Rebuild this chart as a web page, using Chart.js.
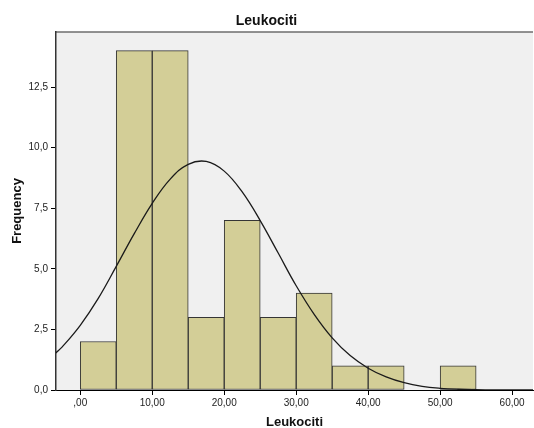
<!DOCTYPE html>
<html>
<head>
<meta charset="utf-8">
<script src="https://cdn.jsdelivr.net/npm/chart.js@4"></script>
<style>
  html, body { margin: 0; padding: 0; background: #fff; }
  #wrap { width: 534px; height: 428px; }
</style>
</head>
<body>
<div id="wrap"><canvas id="MyChart" width="534" height="428"></canvas></div>
<script>
// histogram bins (start of each 5-wide bin) and counts
let binStarts = [0, 5, 10, 15, 20, 25, 30, 35, 40, 45, 50];
let counts = [2, 14, 14, 3, 7, 3, 4, 1, 1, 0, 1];
let binWidth = 5;

// normal curve
let curveX = [-3.4, -2.5, 0, 2.5, 5, 7.5, 10, 12.5, 15, 17.5, 20, 22.5, 25, 27.5, 30, 32.5, 35, 37.5, 40, 42.5, 45, 47.5, 50, 52.5, 55, 57.5, 60, 62.5, 65];
let curveY = [1.53, 1.78, 2.67, 3.78, 5.1, 6.45, 7.7, 8.70, 9.31, 9.43, 9.03, 8.17, 6.99, 5.65, 4.3, 3.12, 2.15, 1.42, 0.9, 0.54, 0.3, 0.15, 0.07, 0.03, 0.013, 0.005, 0.002, 0.001, 0];

let xTicks = [0, 10, 20, 30, 40, 50, 60];
let yTicks = [0, 2.5, 5, 7.5, 10, 12.5];

Chart.defaults.font.family = '"Liberation Sans", Arial, sans-serif';
Chart.defaults.color = '#222';

let bars = [];
for (let i = 0; i < binStarts.length; i++) {
  if (counts[i] > 0) bars.push({x: binStarts[i] + binWidth / 2, y: counts[i]});
}
let curve = [];
for (let i = 0; i < curveX.length; i++) {
  curve.push({x: curveX[i], y: curveY[i]});
}

let plotBack = {
  id: 'plotBack',
  beforeDraw(chart) {
    let a = chart.chartArea;
    let ctx = chart.ctx;
    ctx.save();
    ctx.fillStyle = '#f0f0f0';
    ctx.fillRect(a.left, a.top, a.right - a.left, a.bottom - a.top);
    ctx.strokeStyle = '#6e6e6e';
    ctx.lineWidth = 1.5;
    ctx.beginPath();
    ctx.moveTo(a.left, a.top);
    ctx.lineTo(a.right, a.top);
    ctx.stroke();
    ctx.restore();
  }
};

let data = {
  datasets: [{
    type: 'line',
    data: curve,
    borderColor: '#1a1a1a',
    borderWidth: 1.3,
    pointRadius: 0,
    tension: 0.4,
    fill: false,
    order: 0
  },
  {
    type: 'bar',
    data: bars,
    backgroundColor: '#d3ce97',
    borderColor: '#353535',
    borderWidth: 1,
    borderSkipped: false,
    barPercentage: 1,
    categoryPercentage: 1,
    order: 1
  }]
};

let options = {
  responsive: false,
  animation: false,
  layout: { padding: { left: 0, right: 1, top: 0, bottom: 0 } },
  plugins: {
    legend: { display: false },
    tooltip: { enabled: false },
    title: {
      display: true,
      text: 'Leukociti',
      color: '#111',
      font: { size: 14, weight: 'bold' },
      padding: { top: 12.5, bottom: 2.7 }
    }
  },
  scales: {
    x: {
      type: 'linear',
      offset: false,
      min: -3.37,
      max: 62.9,
      afterFit(scale) { scale.height = 38; },
      afterBuildTicks(scale) { scale.ticks = xTicks.map(v => ({value: v})); },
      ticks: {
        font: { size: 10 },
        color: '#222',
        padding: 2,
        maxRotation: 0,
        callback: v => v === 0 ? ',00' : v.toFixed(2).replace('.', ',')
      },
      grid: { display: true, drawOnChartArea: false, drawTicks: true, tickLength: 5, color: '#000', offset: false },
      border: { display: true, color: '#000', width: 1 },
      title: {
        display: true,
        text: 'Leukociti',
        color: '#111',
        font: { size: 13, weight: 'bold', lineHeight: 0.85 },
        padding: { top: 0, bottom: 0 }
      }
    },
    y: {
      min: 0,
      max: 14.77,
      afterFit(scale) { scale.width = 56; },
      afterBuildTicks(scale) { scale.ticks = yTicks.map(v => ({value: v})); },
      ticks: {
        font: { size: 10 },
        color: '#222',
        padding: 3,
        callback: v => v.toFixed(1).replace('.', ',')
      },
      grid: { display: true, drawOnChartArea: false, drawTicks: true, tickLength: 5, color: '#000' },
      border: { display: true, color: '#333', width: 1.5 },
      title: {
        display: true,
        text: 'Frequency',
        color: '#111',
        font: { size: 13, weight: 'bold', lineHeight: 1.2 },
        padding: { top: 9.5, bottom: 0 }
      }
    }
  }
};

let myChart = new Chart(document.getElementById('MyChart'), {
  type: 'bar',
  data: data,
  options: options,
  plugins: [plotBack]
});
</script>
</body>
</html>
